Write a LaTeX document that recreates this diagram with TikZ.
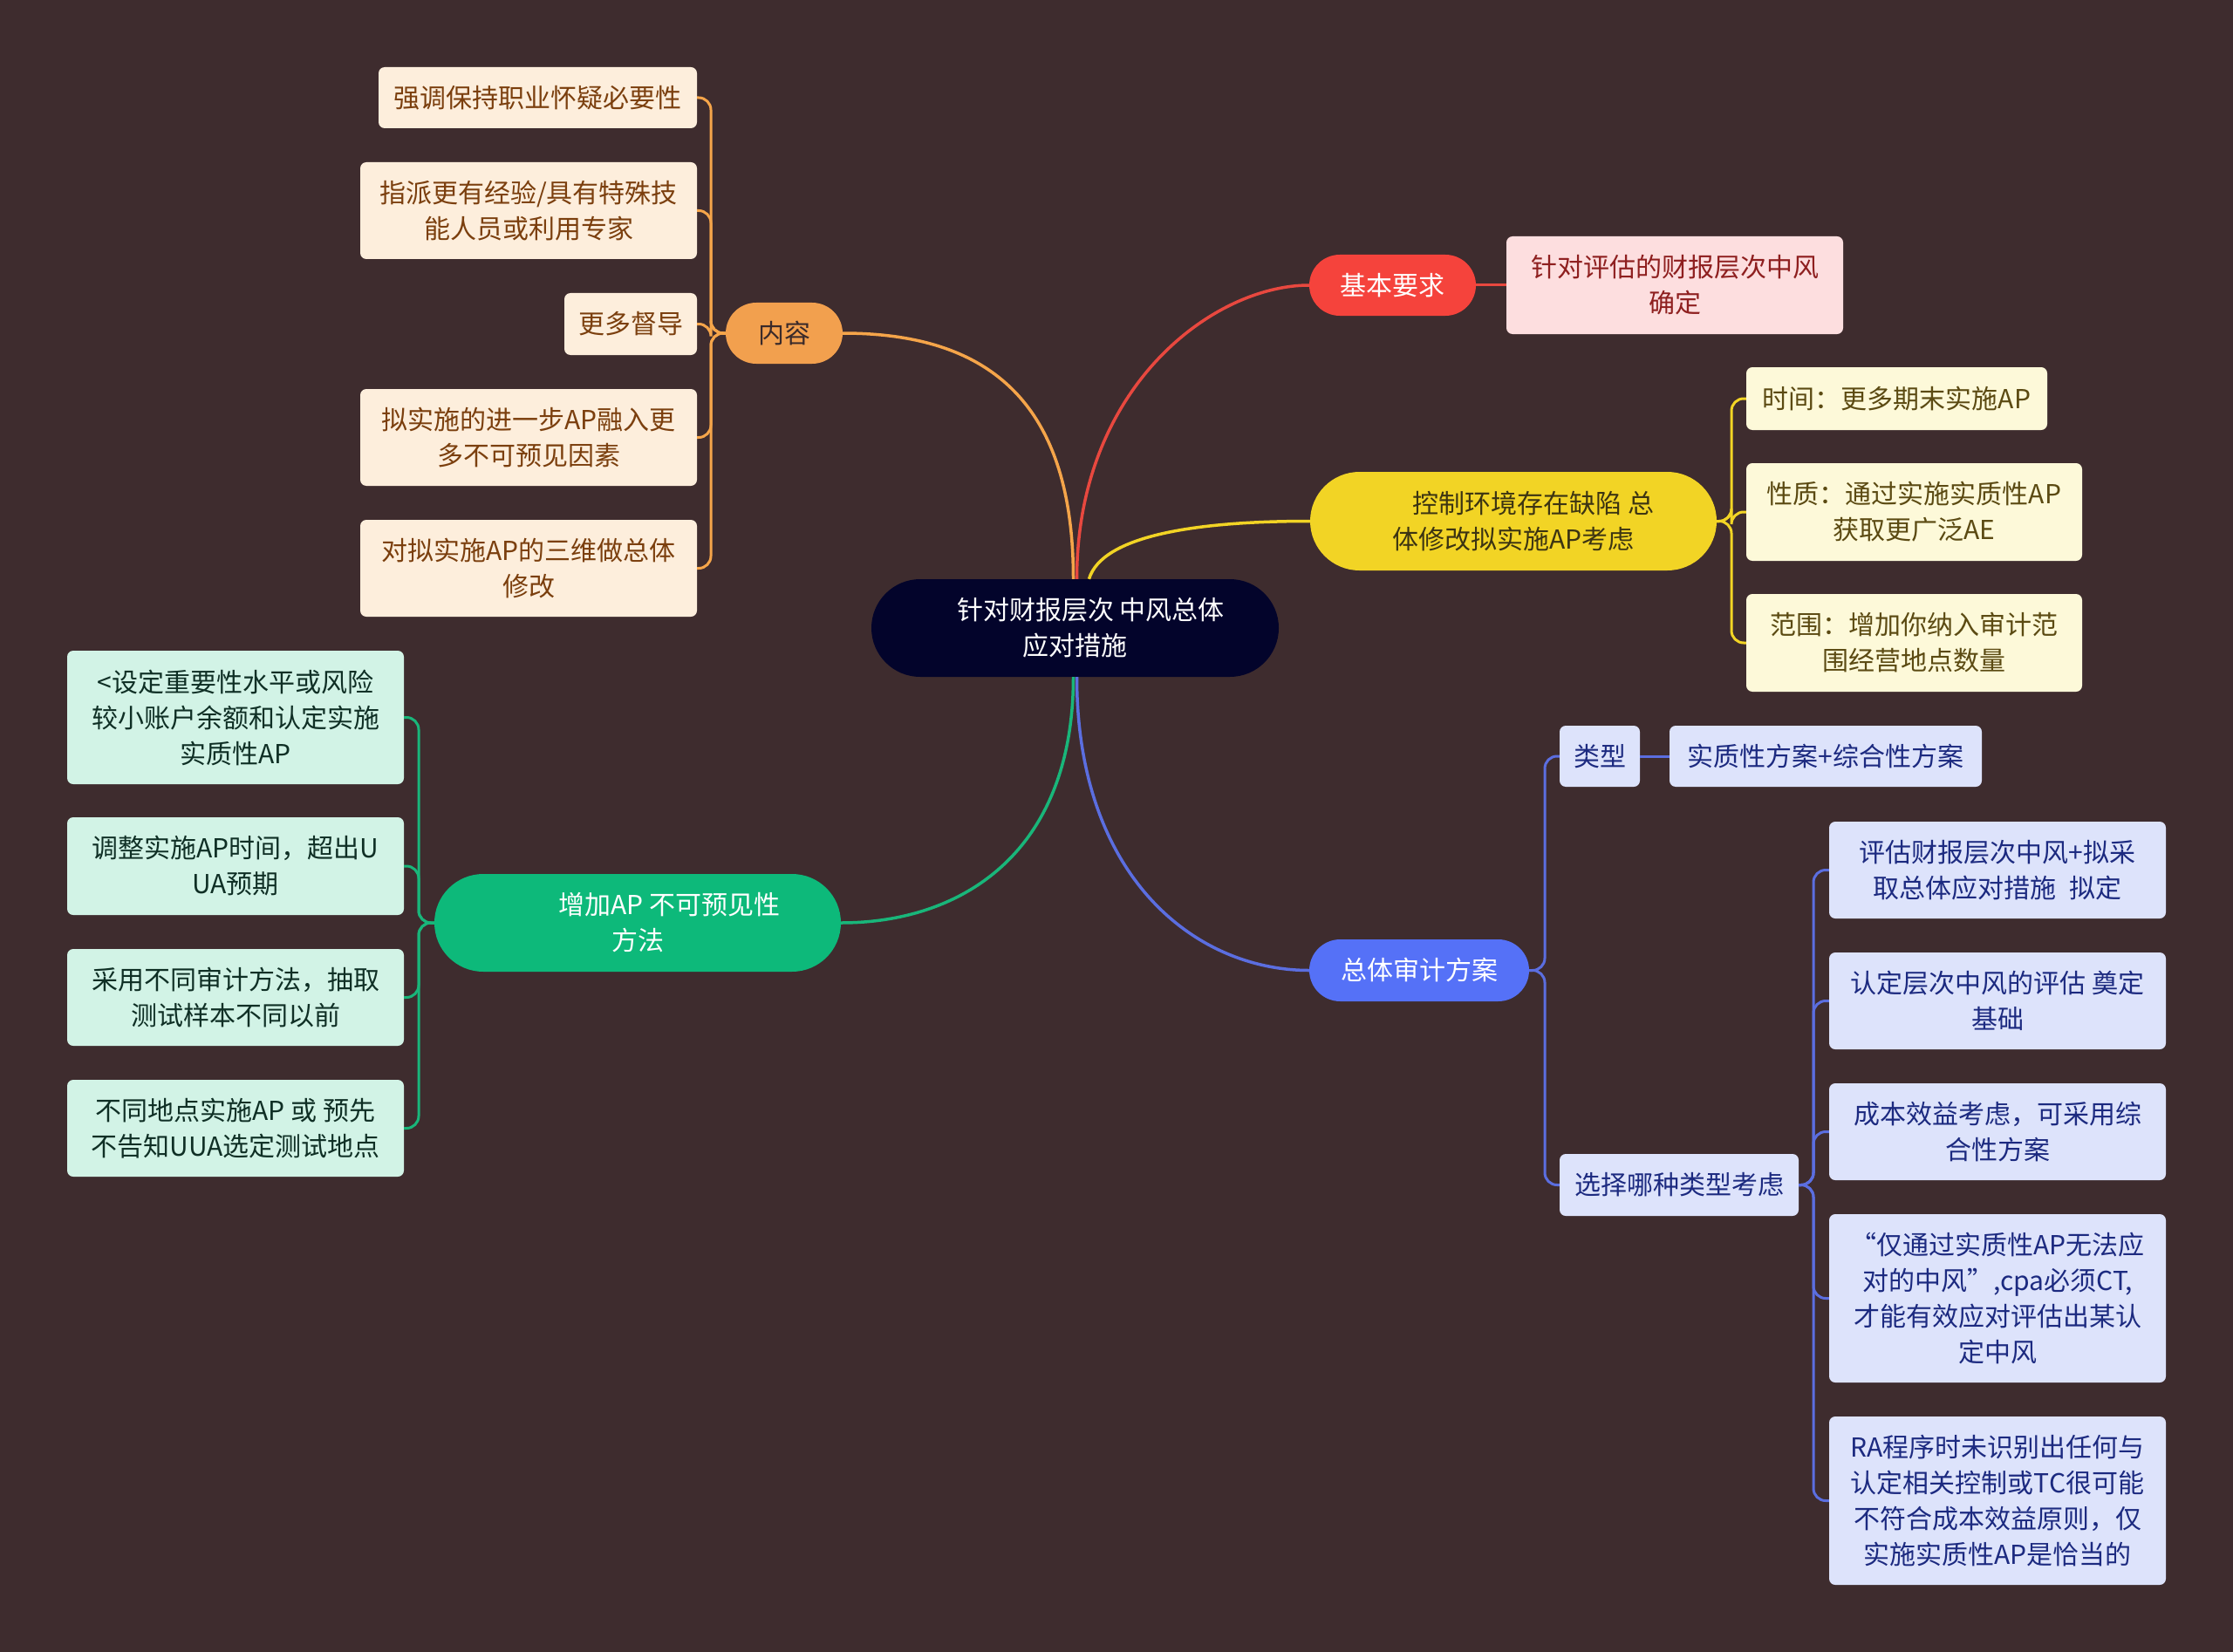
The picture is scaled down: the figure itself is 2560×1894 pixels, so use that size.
\documentclass[tikz,border=0pt]{standalone}
\usepackage{fontspec}
\setmainfont{Noto Sans CJK SC}
\usetikzlibrary{shapes.misc}
\definecolor{bg}{HTML}{3E2C2E}
\definecolor{rootc}{HTML}{03042B}
\definecolor{orc}{HTML}{F2A04E}
\definecolor{orl}{HTML}{F5A54A}
\definecolor{orf}{HTML}{FDEEDC}
\definecolor{ort}{HTML}{7B3F0E}
\definecolor{orpt}{HTML}{3A2A2A}
\definecolor{rdc}{HTML}{F5433C}
\definecolor{rdl}{HTML}{E8483F}
\definecolor{rdf}{HTML}{FDDEDF}
\definecolor{rdt}{HTML}{8E1F1F}
\definecolor{ylc}{HTML}{F2D425}
\definecolor{yll}{HTML}{F2D425}
\definecolor{ylf}{HTML}{FDF9D9}
\definecolor{ylt}{HTML}{5B4A12}
\definecolor{ylpt}{HTML}{3C3412}
\definecolor{gnc}{HTML}{0DB97A}
\definecolor{gnl}{HTML}{19B67A}
\definecolor{gnf}{HTML}{D2F3E6}
\definecolor{gnt}{HTML}{0F2F25}
\definecolor{blc}{HTML}{5571F7}
\definecolor{bll}{HTML}{5B6EE0}
\definecolor{blf}{HTML}{DDE3FB}
\definecolor{blt}{HTML}{1C2A80}
\begin{document}
\begin{tikzpicture}[x=1pt,y=-1pt,
  every node/.style={align=center, inner sep=0pt, font=\fontsize{30}{41}\selectfont},
  pill/.style={rounded rectangle},
  box/.style={rounded corners=7pt},
  mainline/.style={line width=3.5pt},
  brk/.style={line width=3pt, rounded corners=14pt}]
\fill[bg] (0,0) rectangle (2560,1894);
\useasboundingbox (0,0) rectangle (2560,1894);

% root
\node[pill, fill=rootc, text=white, minimum width=467pt, minimum height=112pt] (root) at (1232.5,720) {\hspace*{36pt}针对财报层次 中风总体\\应对措施};

% orange branch
\node[pill, fill=orc, text=orpt, minimum width=134pt, minimum height=70pt] (op) at (899,382) {内容};
\node[box, fill=orf, text=ort, minimum width=365pt, minimum height=70pt] (o1) at (616.5,112) {强调保持职业怀疑必要性};
\node[box, fill=orf, text=ort, minimum width=386pt, minimum height=111pt] (o2) at (606,241.5) {指派更有经验/具有特殊技\\能人员或利用专家};
\node[box, fill=orf, text=ort, minimum width=152pt, minimum height=71pt] (o3) at (723,371.5) {更多督导};
\node[box, fill=orf, text=ort, minimum width=386pt, minimum height=111pt] (o4) at (606,501.5) {拟实施的进一步AP融入更\\多不可预见因素};
\node[box, fill=orf, text=ort, minimum width=386pt, minimum height=111pt] (o5) at (606,651.5) {对拟实施AP的三维做总体\\修改};

% red branch
\node[pill, fill=rdc, text=white, minimum width=191pt, minimum height=70pt] (rp) at (1596.5,327) {基本要求};
\node[box, fill=rdf, text=rdt, minimum width=386pt, minimum height=112pt] (r1) at (1920,327) {针对评估的财报层次中风\\确定};

% yellow branch
\node[pill, fill=ylc, text=ylpt, minimum width=466pt, minimum height=113pt] (yp) at (1735,597.5) {\hspace*{46pt}控制环境存在缺陷 总\\体修改拟实施AP考虑};
\node[box, fill=ylf, text=ylt, minimum width=345pt, minimum height=72pt] (y1) at (2174.5,457) {时间：更多期末实施AP};
\node[box, fill=ylf, text=ylt, minimum width=385pt, minimum height=112pt] (y2) at (2194.5,587) {性质：通过实施实质性AP\\获取更广泛AE};
\node[box, fill=ylf, text=ylt, minimum width=385pt, minimum height=112pt] (y3) at (2194.5,737) {范围：增加你纳入审计范\\围经营地点数量};

% green branch
\node[pill, fill=gnc, text=white, minimum width=466pt, minimum height=112pt] (gp) at (731,1058) {\hspace*{73pt}增加AP 不可预见性\\方法};
\node[box, fill=gnf, text=gnt, minimum width=386pt, minimum height=153pt] (g1) at (270,822.5) {<设定重要性水平或风险\\较小账户余额和认定实施\\实质性AP};
\node[box, fill=gnf, text=gnt, minimum width=386pt, minimum height=112pt] (g2) at (270,993) {调整实施AP时间，超出U\\UA预期};
\node[box, fill=gnf, text=gnt, minimum width=386pt, minimum height=111pt] (g3) at (270,1143.5) {采用不同审计方法，抽取\\测试样本不同以前};
\node[box, fill=gnf, text=gnt, minimum width=386pt, minimum height=111pt] (g4) at (270,1293.5) {不同地点实施AP 或 预先\\不告知UUA选定测试地点};

% blue branch
\node[pill, fill=blc, text=white, minimum width=252pt, minimum height=71pt] (bp) at (1627,1112.5) {总体审计方案};
\node[box, fill=blf, text=blt, minimum width=92pt, minimum height=70pt] (b1) at (1834,867) {类型};
\node[box, fill=blf, text=blt, minimum width=358pt, minimum height=70pt] (b2) at (2093,867) {实质性方案+综合性方案};
\node[box, fill=blf, text=blt, minimum width=274pt, minimum height=71pt] (b3) at (1925,1358.5) {选择哪种类型考虑};
\node[box, fill=blf, text=blt, minimum width=386pt, minimum height=111pt] (b4) at (2290,997.5) {评估财报层次中风+拟采\\取总体应对措施\hspace{15pt}拟定};
\node[box, fill=blf, text=blt, minimum width=386pt, minimum height=111pt] (b5) at (2290,1147.5) {认定层次中风的评估 奠定\\基础};
\node[box, fill=blf, text=blt, minimum width=386pt, minimum height=111pt] (b6) at (2290,1297.5) {成本效益考虑，可采用综\\合性方案};
\node[box, fill=blf, text=blt, minimum width=386pt, minimum height=193pt] (b7) at (2290,1488.5) {“仅通过实质性AP无法应\\对的中风”,cpa必须CT,\\才能有效应对评估出某认\\定中风};
\node[box, fill=blf, text=blt, minimum width=386pt, minimum height=193pt] (b8) at (2290,1720.5) {RA程序时未识别出任何与\\认定相关控制或TC很可能\\不符合成本效益原则，仅\\实施实质性AP是恰当的};

% main curves
\draw[mainline, orl] ([xshift=-2pt]root.north) .. controls +(0,-210) and +(160,0) .. (op.east);
\draw[mainline, rdl] ([xshift=2pt]root.north) .. controls +(0,-220) and +(-110,0) .. (rp.west);
\draw[mainline, yll] ([xshift=16pt]root.north) .. controls +(15,-50) and +(-130,0) .. (yp.west);
\draw[mainline, gnl] ([xshift=-2pt]root.south) .. controls +(0,200) and +(140,0) .. (gp.east);
\draw[mainline, bll] ([xshift=2pt]root.south) .. controls +(0,230) and +(-130,0) .. (bp.west);

% orange brackets
\foreach \c in {o1,o2,o3,o4,o5}
  \draw[brk, orl] (op.west) -- (815,382) |- (\c.east);
% red
\draw[line width=3pt, rdl] (rp.east) -- (r1.west);
% yellow
\foreach \c in {y1,y2,y3}
  \draw[brk, yll] (yp.east) -- (1985,597.5) |- (\c.west);
% green
\foreach \c in {g1,g2,g3,g4}
  \draw[brk, gnl] (gp.west) -- (480,1058) |- (\c.east);
% blue
\foreach \c in {b1,b3}
  \draw[brk, bll] (bp.east) -- (1771,1112.5) |- (\c.west);
\draw[line width=3pt, bll] (b1.east) -- (b2.west);
\foreach \c in {b4,b5,b6,b7,b8}
  \draw[brk, bll] (b3.east) -- (2079,1358.5) |- (\c.west);
\end{tikzpicture}
\end{document}
